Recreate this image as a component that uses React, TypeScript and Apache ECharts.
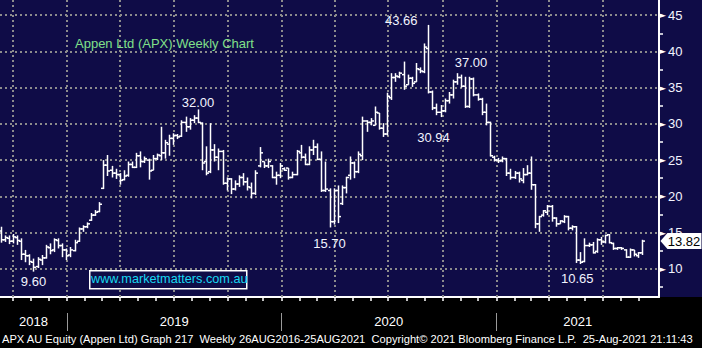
import React, { useEffect, useRef } from 'react';
import * as echarts from 'echarts';

// ---- data ----
const firstWeek = '2018-09-10';
const axisStart = '2018-09-09';
const axisEnd = '2021-10-05';

const opens = [
  15.2, 14.0, 14.2, 13.8, 14.3, 13.8, 12.0, 11.8, 10.9, 10.3, 11.2, 11.5, 12.9, 12.6, 13.9, 13.2, 12.6, 11.9, 12.5, 13.8,
  15.5, 15.8, 16.7, 17.4, 17.9, 21.1, 24.3, 23.6, 23.2, 23.0, 22.3, 22.9, 24.4, 24.0, 25.6, 24.8, 25.0, 23.6, 25.2, 25.6,
  26.0, 27.2, 28.0, 28.4, 28.3, 30.2, 29.6, 30.5, 30.8, 30.1, 24.8, 23.4, 26.4, 25.4, 26.2, 21.8, 22.4, 21.0, 21.7, 22.6,
  22.0, 21.2, 20.4, 24.2, 24.8, 24.2, 24.2, 22.6, 22.9, 23.8, 23.9, 22.6, 23.0, 26.0, 25.4, 24.4, 26.4, 26.8, 25.1, 20.8,
  20.8, 16.5, 20.8, 19.0, 21.2, 22.9, 24.6, 23.4, 25.6, 30.4, 30.2, 29.8, 31.5, 29.4, 28.6, 33.6, 36.4, 36.5, 36.8, 35.4,
  36.3, 35.8, 37.5, 37.2, 40.4, 34.4, 32.2, 31.6, 31.8, 33.2, 34.0, 35.8, 36.4, 35.2, 32.4, 36.2, 34.0, 33.4, 31.6, 30.2,
  25.4, 25.0, 24.9, 25.2, 23.2, 22.6, 23.2, 22.2, 23.0, 23.2, 21.6, 16.2, 17.4, 17.8, 18.6, 17.0, 16.2, 16.5, 17.2, 15.6,
  15.8, 11.2, 11.0, 13.2, 13.3, 12.4, 14.0, 13.7, 14.7, 13.5, 12.8, 12.9, 12.6, 11.6, 12.6, 11.8, 12.2,
];
const closes = [
  14.0, 14.3, 13.8, 14.4, 13.9, 12.0, 11.8, 11.0, 10.2, 11.3, 11.5, 13.0, 12.5, 14.0, 13.2, 12.6, 11.8, 12.6, 13.6, 15.5,
  15.8, 16.2, 17.4, 17.8, 18.9, 24.3, 23.5, 23.2, 23.0, 22.2, 22.8, 24.4, 24.0, 25.6, 24.8, 25.2, 23.5, 25.2, 25.7, 26.0,
  27.4, 28.0, 28.4, 28.2, 30.2, 29.6, 30.5, 30.8, 30.2, 24.6, 23.2, 26.4, 25.4, 26.2, 21.8, 22.4, 21.0, 21.7, 22.6, 22.0,
  21.3, 20.4, 23.2, 26.0, 24.2, 24.8, 22.6, 22.9, 24.2, 23.6, 22.6, 23.0, 26.2, 25.4, 24.4, 26.4, 26.8, 25.1, 20.8, 21.0,
  16.5, 20.8, 17.2, 21.2, 22.6, 24.6, 23.4, 25.8, 30.4, 30.2, 30.4, 31.6, 29.4, 28.6, 33.8, 36.4, 36.6, 37.0, 35.2, 36.3,
  35.6, 37.6, 37.3, 40.6, 34.4, 32.2, 31.6, 31.8, 33.2, 34.0, 35.8, 36.4, 35.2, 32.4, 36.2, 34.0, 33.4, 31.6, 30.2, 25.6,
  25.0, 24.9, 25.2, 23.2, 22.6, 23.2, 22.4, 23.0, 23.2, 21.6, 16.2, 17.2, 18.0, 18.6, 17.0, 16.2, 16.6, 17.2, 15.6, 15.8,
  11.2, 10.9, 13.2, 13.3, 12.2, 14.0, 13.7, 14.6, 13.6, 12.8, 12.9, 12.8, 11.6, 12.6, 12.0, 12.2, 13.82,
];
const lows = [
  13.6, 13.7, 13.4, 13.5, 13.3, 11.2, 10.9, 10.5, 9.6, 10.1, 10.5, 11.4, 12.0, 12.3, 12.8, 11.6, 11.2, 11.6, 12.4, 13.7,
  15.1, 15.6, 16.6, 17.3, 17.8, 21.0, 22.8, 22.6, 22.4, 21.6, 22.2, 22.7, 23.9, 23.9, 24.0, 24.6, 22.3, 23.6, 25.0, 25.0,
  25.2, 25.6, 27.1, 27.9, 28.2, 28.9, 29.2, 30.1, 30.1, 23.6, 22.9, 23.2, 24.8, 23.6, 21.6, 20.8, 20.3, 20.8, 21.3, 21.5,
  20.8, 19.7, 20.2, 24.0, 23.9, 23.9, 22.5, 21.6, 22.5, 23.5, 22.3, 22.5, 22.9, 25.2, 24.3, 24.3, 25.7, 25.0, 20.6, 20.6,
  15.7, 16.1, 16.3, 18.8, 20.4, 22.3, 22.5, 23.2, 25.0, 28.9, 29.8, 29.8, 29.2, 28.2, 28.4, 33.3, 35.8, 36.3, 34.7, 35.4,
  35.1, 35.8, 37.0, 37.0, 34.2, 31.9, 31.2, 30.94, 31.6, 32.8, 33.5, 35.4, 35.0, 32.2, 32.2, 33.8, 33.2, 31.2, 29.8, 25.5,
  24.8, 24.6, 24.7, 22.8, 22.3, 22.4, 21.9, 21.8, 22.9, 20.9, 15.6, 15.1, 17.2, 17.4, 16.5, 15.8, 16.2, 16.3, 15.3, 15.3,
  10.8, 10.65, 10.9, 13.0, 12.1, 12.2, 13.3, 13.5, 13.5, 12.6, 12.6, 12.6, 11.5, 11.5, 11.7, 11.5, 11.9,
];
const highs = [
  15.8, 14.6, 14.6, 14.8, 14.6, 14.2, 12.6, 12.0, 11.4, 11.6, 11.9, 13.3, 13.5, 14.2, 14.2, 13.5, 12.8, 13.0, 14.0, 15.7,
  16.0, 16.4, 17.7, 18.1, 19.2, 25.0, 25.7, 24.2, 23.8, 23.2, 23.6, 24.8, 24.8, 26.0, 26.2, 25.5, 25.2, 25.7, 25.9, 29.6,
  27.8, 28.5, 28.7, 28.6, 30.5, 31.0, 30.8, 31.2, 32.0, 30.2, 26.9, 30.1, 27.2, 26.6, 26.4, 22.6, 22.5, 22.2, 22.9, 23.2,
  22.6, 21.9, 23.6, 26.8, 24.8, 25.2, 24.3, 23.4, 24.6, 24.0, 23.9, 23.4, 26.4, 27.1, 25.9, 26.9, 27.8, 27.3, 26.2, 24.8,
  21.1, 21.1, 21.5, 21.5, 22.7, 25.5, 24.8, 26.2, 31.0, 30.5, 30.8, 32.4, 31.5, 30.1, 34.3, 37.0, 37.0, 37.2, 38.6, 36.8,
  36.5, 38.4, 37.8, 41.1, 43.66, 34.6, 32.8, 32.6, 33.5, 34.4, 36.1, 37.0, 36.8, 36.5, 36.5, 36.4, 34.2, 33.6, 32.8, 30.3,
  25.6, 25.3, 25.5, 25.3, 23.8, 23.5, 23.4, 23.9, 24.3, 25.5, 21.7, 17.3, 18.1, 18.8, 18.8, 17.1, 16.7, 17.4, 17.3, 16.0,
  15.9, 12.3, 14.2, 13.6, 13.7, 14.2, 14.4, 14.7, 14.8, 13.6, 13.0, 13.0, 12.7, 12.8, 12.6, 12.3, 14.0,
];

const yMajorTicks = [10, 15, 20, 25, 30, 35, 40, 45];
const yMinorTicks = [7.5, 12.5, 17.5, 22.5, 27.5, 32.5, 37.5, 42.5];
const quarterStarts = [
  '2018-10-01', '2019-01-01', '2019-04-01', '2019-07-01', '2019-10-01', '2020-01-01',
  '2020-04-01', '2020-07-01', '2020-10-01', '2021-01-01', '2021-04-01', '2021-07-01',
];
const yearStarts = ['2019-01-01', '2020-01-01', '2021-01-01'];
const annotIndex = [8, 48, 80, 104, 107, 111, 141];
const annotKind = ['low', 'high', 'low', 'high', 'low', 'high', 'low'];

const titleText = 'Appen Ltd (APX) Weekly Chart';
const watermarkText = 'www.marketmatters.com.au';
const footerText =
  'APX AU Equity (Appen Ltd) Graph 217  Weekly 26AUG2016-25AUG2021  Copyright\u00A9 2021 Bloomberg Finance L.P.  25-Aug-2021 21:11:43';

// ---- helpers ----
const DAY = 86400000;
const ts = (s: string) => {
  const [y, m, d] = s.split('-').map(Number);
  return new Date(y, m - 1, d).getTime();
};

const FONT = "'Liberation Sans', Arial, sans-serif";
const NAVY = '#0f0c47';
const GRIDC = '#8c8c8c';

export default function App() {
  const ref = useRef<HTMLDivElement>(null);
  useEffect(() => {
    if (!ref.current) return;
    const chart = echarts.init(ref.current, undefined, { renderer: 'svg' });

    const weekDates = opens.map((_, i) => ts(firstWeek) + i * 7 * DAY);
    const data = opens.map((o, i) => [weekDates[i], o, closes[i], lows[i], highs[i]]);
    const xMin = ts(axisStart);
    const xMax = ts(axisEnd);

    const monthTicks: number[] = [];
    for (let y = 2018; y <= 2021; y++) {
      for (let m = 0; m < 12; m++) {
        const t = new Date(y, m, 1).getTime();
        if (t > xMin && t < xMax - 10 * DAY) monthTicks.push(t);
      }
    }
    const ys = yearStarts.map(ts);
    const bounds = [xMin, ...ys, xMax];
    const yearCenters = bounds.slice(0, -1).map((b, i) => (b + bounds[i + 1]) / 2);

    const offsets: Record<number, number[]> = {
      8: [0, 10], 48: [0, -7], 80: [0, 16], 104: [-27, -4], 107: [-7, 20], 111: [14, -11], 141: [-3, 14],
    };

    const annotData = annotIndex.map((idx, k) => {
      const price = annotKind[k] === 'low' ? lows[idx] : highs[idx];
      return {
        coord: [weekDates[idx], price],
        symbol: 'circle',
        symbolSize: 1,
        itemStyle: { color: 'rgba(0,0,0,0)' },
        label: {
          show: true,
          position: 'inside',
          offset: offsets[idx],
          formatter: price.toFixed(2),
          color: '#f2f4ff',
          fontSize: 13,
          fontFamily: FONT,
        },
      };
    });
    const lastIdx = closes.length - 1;
    const lastData = {
      coord: [weekDates[lastIdx], closes[lastIdx]],
      symbol: 'path://M0,8 L7,0 L41,0 L41,16 L7,16 Z',
      symbolSize: [41, 16],
      symbolOffset: [39, 0],
      itemStyle: { color: '#ffffff' },
      label: {
        show: true,
        position: 'inside',
        offset: [3, 0],
        formatter: closes[lastIdx].toFixed(2),
        color: '#000000',
        fontSize: 13,
        fontFamily: FONT,
      },
    };

    const option: any = {
      animation: false,
      backgroundColor: NAVY,
      grid: { left: 0, right: 43, top: 0, bottom: 51, containLabel: false },
      graphic: [
        { type: 'rect', left: 0, top: 297, shape: { width: 702, height: 51 }, style: { fill: '#000' }, z: -1, silent: true },
        {
          type: 'text', left: 75, top: 37, z: 10,
          style: { text: titleText, fill: '#80e08a', font: `13px ${FONT}` },
        },
        {
          type: 'rect', left: 89, top: 270, z: 10,
          shape: { width: 157, height: 18 },
          style: { fill: NAVY, stroke: '#ffffff', lineWidth: 1.5 },
        },
        {
          type: 'text', left: 91, top: 272, z: 11,
          style: { text: watermarkText, fill: '#18d8f2', font: `12.7px ${FONT}` },
        },
        {
          type: 'text', left: 2, top: 333, z: 10,
          style: { text: footerText, fill: '#ffffff', font: `11.15px ${FONT}` },
        },
      ],
      xAxis: [
        {
          type: 'value', min: xMin, max: xMax, position: 'bottom',
          axisLine: { show: true, onZero: false, lineStyle: { color: '#ffffff', width: 2 } },
          axisTick: { show: true, customValues: monthTicks, length: 4, lineStyle: { color: '#ffffff', width: 1.5 } },
          axisLabel: {
            show: true, customValues: yearCenters, margin: 18, color: '#ffffff', fontSize: 13, fontFamily: FONT,
            formatter: (v: number) => String(new Date(v).getFullYear()),
          },
          splitLine: { show: false },
        },
        {
          type: 'value', min: xMin, max: xMax, position: 'bottom', offset: 16,
          axisLine: { show: false, onZero: false },
          axisTick: { show: true, customValues: ys, length: 18, lineStyle: { color: '#9a9a9a', width: 1 } },
          axisLabel: { show: false },
          splitLine: { show: false },
        },
      ],
      yAxis: {
        type: 'value', position: 'right', min: 6.1, max: 47.1,
        axisLine: { show: true, onZero: false, lineStyle: { color: '#ffffff', width: 2 } },
        axisTick: { show: true, customValues: yMinorTicks, length: 4, lineStyle: { color: '#ffffff', width: 1.5 } },
        axisLabel: {
          show: true, customValues: yMajorTicks, margin: 0,
          formatter: (v: number) => `{t|\u25BA}{v|${v}}`,
          rich: {
            t: { color: '#ffffff', fontSize: 9, fontFamily: "'DejaVu Sans', sans-serif" },
            v: { color: '#f2f4ff', fontSize: 13, fontFamily: FONT, padding: [0, 0, 0, 2] },
          },
        },
        splitLine: { show: false },
      },
      series: [
        {
          type: 'custom',
          z: 3,
          clip: false,
          data,
          encode: { x: 0, y: [1, 2, 3, 4] },
          renderItem: (params: any, api: any) => {
            const x = api.value(0);
            const pO = api.coord([x, api.value(1)]);
            const pC = api.coord([x, api.value(2)]);
            const pL = api.coord([x, api.value(3)]);
            const pH = api.coord([x, api.value(4)]);
            const px = Math.round(pO[0]) + 0.5;
            const style = { stroke: '#ffffff', lineWidth: 1.5 };
            return {
              type: 'group',
              children: [
                { type: 'line', shape: { x1: px, y1: pL[1], x2: px, y2: pH[1] }, style },
                { type: 'line', shape: { x1: px - 2.5, y1: pO[1], x2: px, y2: pO[1] }, style },
                { type: 'line', shape: { x1: px, y1: pC[1], x2: px + 2.5, y2: pC[1] }, style },
              ],
            };
          },
          markLine: {
            silent: true,
            z: 1,
            symbol: ['none', 'none'],
            label: { show: false },
            lineStyle: { color: GRIDC, width: 2, type: [2, 3] },
            data: [
              ...quarterStarts.map((q) => ({ xAxis: ts(q) })),
              ...yMajorTicks.map((v) => ({ yAxis: v })),
            ],
          },
          markPoint: {
            silent: true,
            z: 5,
            data: [...annotData, lastData],
          },
        },
      ],
    };
    chart.setOption(option);
    return () => chart.dispose();
  }, []);

  return (
    <div
      ref={ref}
      style={{ position: 'absolute', left: 0, top: 0, width: 702, height: 348 }}
    />
  );
}
